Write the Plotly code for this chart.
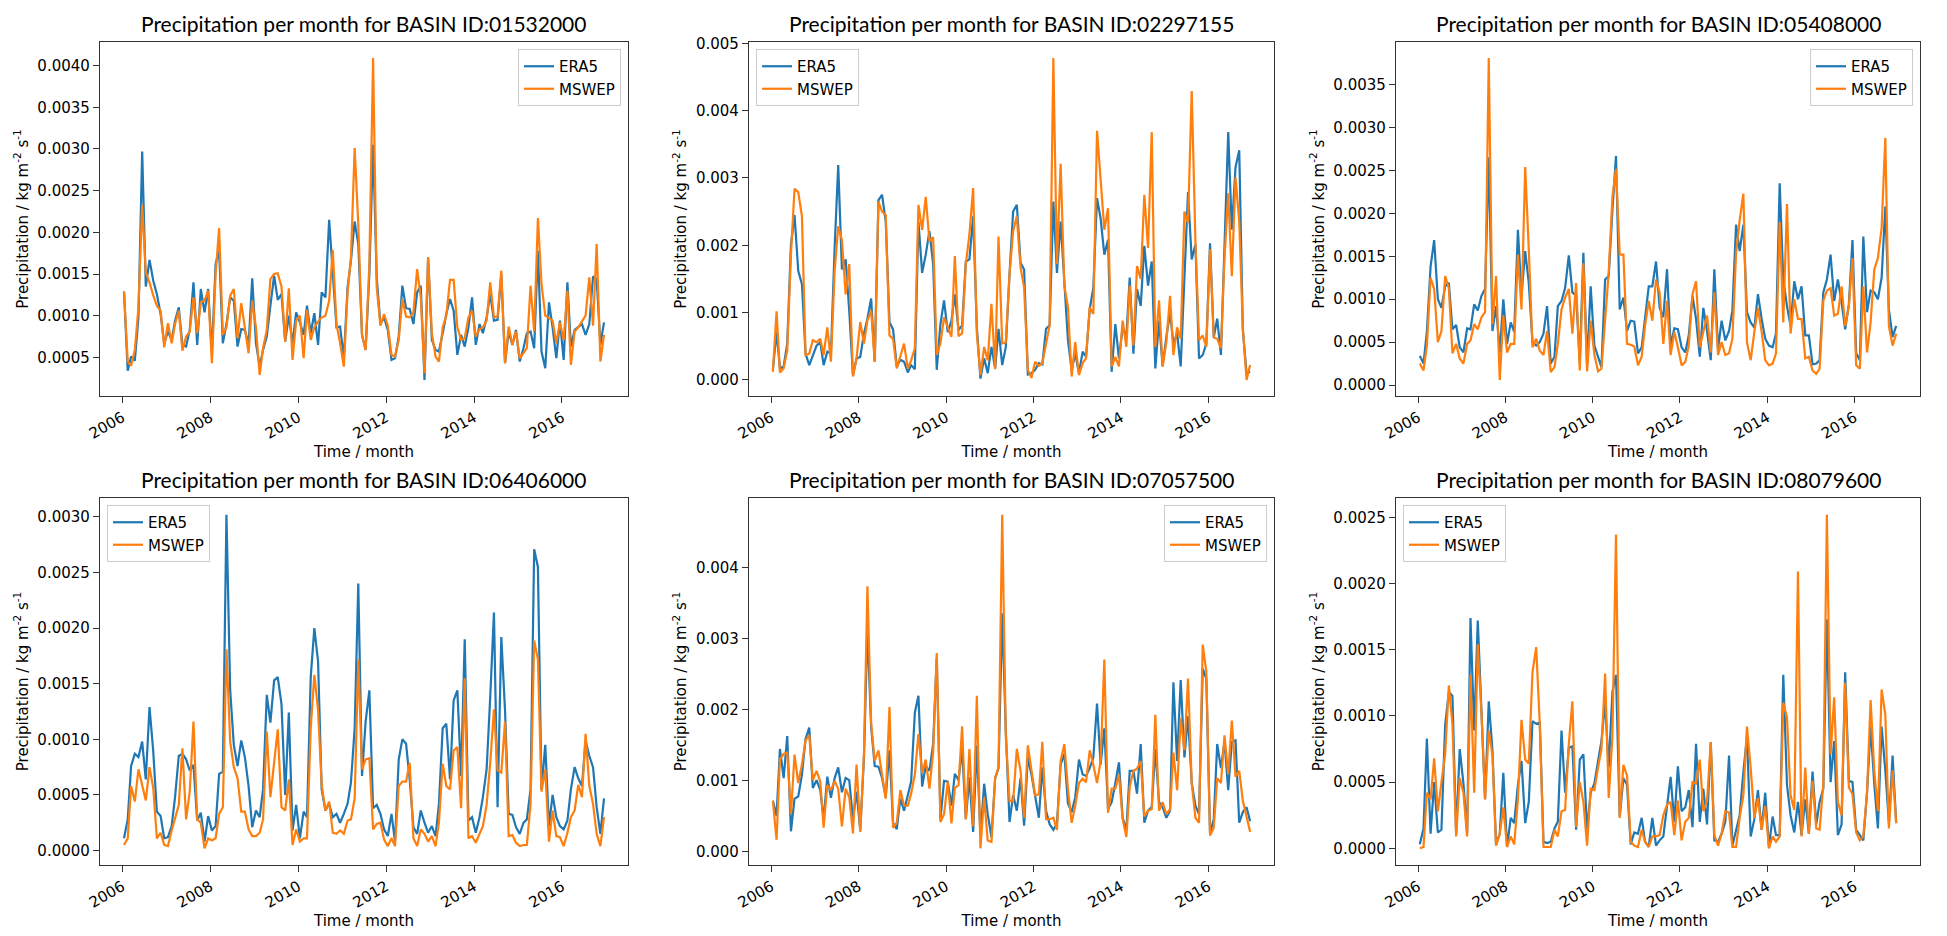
import plotly.graph_objects as go
import pandas as pd

# Monthly dates 2006-01 .. 2016-12
months = [f"{y}-{m:02d}-15" for y in range(2006, 2017) for m in range(1, 13)]

basin_ids = ["01532000", "02297155", "05408000", "06406000", "07057500", "08079600"]

# ---- values (kg m-2 s-1) ----
era5_01532000 = [12.9e-4,3.4e-4,5.1e-4,4.6e-4,9.8e-4,29.7e-4,13.5e-4,16.7e-4,14.2e-4,12.6e-4,
10.2e-4,6.7e-4,8.1e-4,7.1e-4,9.4e-4,11.0e-4,6.5e-4,6.3e-4,8.3e-4,14.0e-4,
6.5e-4,13.2e-4,10.4e-4,13.2e-4,5.5e-4,16.2e-4,17.8e-4,6.7e-4,9.0e-4,12.2e-4,
11.8e-4,6.3e-4,8.4e-4,8.3e-4,6.5e-4,14.5e-4,6.7e-4,3.9e-4,5.9e-4,7.5e-4,
11.2e-4,14.8e-4,11.9e-4,12.6e-4,6.9e-4,10.0e-4,6.7e-4,10.4e-4,9.2e-4,7.7e-4,
11.2e-4,7.9e-4,10.3e-4,6.5e-4,12.8e-4,12.2e-4,21.5e-4,15.0e-4,8.6e-4,8.7e-4,
4.9e-4,13.4e-4,16.6e-4,21.3e-4,18.6e-4,7.7e-4,5.9e-4,15.0e-4,30.5e-4,14.6e-4,
9.0e-4,9.8e-4,8.3e-4,4.7e-4,4.9e-4,7.5e-4,13.6e-4,10.9e-4,10.8e-4,9.0e-4,
12.8e-4,13.6e-4,2.3e-4,17.0e-4,7.1e-4,5.9e-4,5.7e-4,7.9e-4,10.2e-4,12.0e-4,
10.6e-4,5.3e-4,7.7e-4,6.3e-4,8.6e-4,12.2e-4,6.5e-4,9.0e-4,7.9e-4,9.8e-4,
12.6e-4,9.4e-4,9.5e-4,15.0e-4,4.3e-4,8.1e-4,6.5e-4,8.3e-4,4.5e-4,6.1e-4,
7.9e-4,8.1e-4,6.1e-4,17.8e-4,5.7e-4,3.7e-4,11.6e-4,8.6e-4,4.9e-4,9.4e-4,
4.7e-4,14.0e-4,6.3e-4,8.3e-4,8.7e-4,9.0e-4,7.7e-4,9.0e-4,14.7e-4,14.4e-4,
6.5e-4,9.2e-4]
mswep_01532000 = [12.9e-4,4.5e-4,4.0e-4,5.9e-4,11.0e-4,23.3e-4,15.2e-4,14.0e-4,12.4e-4,11.2e-4,
10.6e-4,6.2e-4,9.1e-4,6.7e-4,9.0e-4,10.6e-4,5.8e-4,7.5e-4,8.1e-4,12.2e-4,
7.9e-4,11.6e-4,11.8e-4,13.0e-4,4.3e-4,15.0e-4,20.5e-4,7.7e-4,8.6e-4,12.4e-4,
13.2e-4,7.3e-4,11.5e-4,8.6e-4,5.5e-4,11.8e-4,8.6e-4,2.9e-4,6.1e-4,8.3e-4,
14.4e-4,15.0e-4,15.1e-4,13.5e-4,6.9e-4,13.3e-4,4.7e-4,9.4e-4,10.0e-4,4.9e-4,
10.7e-4,7.1e-4,8.6e-4,9.3e-4,9.8e-4,10.0e-4,11.8e-4,17.9e-4,9.0e-4,6.7e-4,
3.9e-4,12.8e-4,17.0e-4,30.1e-4,21.0e-4,7.7e-4,5.9e-4,16.2e-4,40.9e-4,13.4e-4,
8.8e-4,10.2e-4,8.8e-4,5.3e-4,5.1e-4,7.1e-4,12.0e-4,9.9e-4,9.8e-4,10.4e-4,
15.6e-4,12.2e-4,3.1e-4,17.0e-4,7.9e-4,5.1e-4,4.5e-4,8.6e-4,10.0e-4,14.3e-4,
14.3e-4,8.6e-4,7.1e-4,7.3e-4,9.8e-4,10.6e-4,7.5e-4,8.4e-4,8.6e-4,9.4e-4,
14.0e-4,9.8e-4,9.9e-4,15.4e-4,4.3e-4,8.7e-4,6.5e-4,8.1e-4,4.9e-4,5.5e-4,
6.1e-4,13.6e-4,8.1e-4,21.7e-4,13.8e-4,10.0e-4,9.7e-4,9.4e-4,6.7e-4,9.2e-4,
7.1e-4,13.0e-4,4.1e-4,8.1e-4,8.6e-4,9.4e-4,10.0e-4,14.6e-4,8.8e-4,18.6e-4,
4.5e-4,7.7e-4]

era5_02297155 = [1.5e-4,7.1e-4,1.7e-4,2.0e-4,5.4e-4,20.1e-4,24.5e-4,16.2e-4,14.2e-4,3.9e-4,
2.2e-4,3.7e-4,5.1e-4,5.6e-4,2.2e-4,4.2e-4,3.9e-4,19.6e-4,31.9e-4,16.4e-4,
17.9e-4,10.3e-4,0.7e-4,3.2e-4,3.4e-4,6.9e-4,9.1e-4,12.1e-4,2.7e-4,26.7e-4,
27.5e-4,23.5e-4,8.6e-4,7.5e-4,2.0e-4,3.0e-4,2.7e-4,1.1e-4,2.2e-4,1.6e-4,
23.5e-4,15.9e-4,18.6e-4,22.1e-4,17.2e-4,1.5e-4,8.3e-4,11.8e-4,7.1e-4,8.8e-4,
12.7e-4,7.4e-4,8.1e-4,17.6e-4,17.9e-4,24.3e-4,7.8e-4,0.2e-4,3.2e-4,1.0e-4,
4.9e-4,1.7e-4,7.6e-4,2.2e-4,4.9e-4,15.7e-4,25.0e-4,26.0e-4,17.4e-4,16.4e-4,
0.8e-4,1.0e-4,1.5e-4,2.5e-4,2.3e-4,7.6e-4,8.1e-4,26.5e-4,15.9e-4,23.5e-4,
13.7e-4,5.9e-4,1.5e-4,3.9e-4,1.0e-4,4.2e-4,3.4e-4,10.5e-4,13.7e-4,27.0e-4,
24.0e-4,18.6e-4,20.8e-4,1.2e-4,8.3e-4,3.2e-4,7.8e-4,6.4e-4,15.2e-4,3.9e-4,
13.5e-4,11.0e-4,19.9e-4,14.0e-4,17.6e-4,1.7e-4,8.8e-4,2.0e-4,6.4e-4,10.0e-4,
5.4e-4,6.9e-4,2.0e-4,15.7e-4,27.9e-4,17.9e-4,20.1e-4,3.2e-4,3.7e-4,5.4e-4,
20.3e-4,6.3e-4,9.1e-4,3.7e-4,19.1e-4,36.8e-4,22.3e-4,31.6e-4,34.1e-4,7.4e-4,
1.0e-4,1.2e-4]
mswep_02297155 = [1.2e-4,10.2e-4,1.1e-4,1.7e-4,4.4e-4,18.6e-4,28.4e-4,27.9e-4,24.3e-4,3.7e-4,
3.9e-4,5.9e-4,5.6e-4,6.1e-4,3.7e-4,7.8e-4,2.7e-4,16.2e-4,22.8e-4,20.8e-4,
12.7e-4,17.2e-4,0.5e-4,3.2e-4,8.6e-4,5.4e-4,8.8e-4,10.3e-4,2.7e-4,26.5e-4,
25.0e-4,24.5e-4,6.6e-4,6.1e-4,1.7e-4,3.7e-4,5.4e-4,1.7e-4,2.9e-4,4.7e-4,
26.0e-4,22.3e-4,27.2e-4,20.6e-4,21.2e-4,3.7e-4,5.4e-4,9.3e-4,7.8e-4,6.4e-4,
18.4e-4,6.5e-4,6.9e-4,17.2e-4,21.6e-4,28.5e-4,6.9e-4,0.7e-4,4.9e-4,2.9e-4,
11.3e-4,1.6e-4,21.3e-4,5.4e-4,5.6e-4,15.7e-4,22.1e-4,24.3e-4,16.7e-4,13.7e-4,
1.5e-4,0.3e-4,2.7e-4,2.1e-4,2.5e-4,5.1e-4,8.1e-4,47.8e-4,17.2e-4,32.1e-4,
14.0e-4,10.8e-4,0.5e-4,5.6e-4,0.7e-4,2.5e-4,3.2e-4,10.8e-4,9.8e-4,37.0e-4,
29.4e-4,22.3e-4,25.5e-4,2.0e-4,3.4e-4,2.0e-4,8.8e-4,4.9e-4,14.0e-4,5.1e-4,
16.9e-4,15.0e-4,27.5e-4,19.6e-4,36.8e-4,4.9e-4,11.8e-4,2.0e-4,5.6e-4,12.5e-4,
3.7e-4,7.8e-4,6.1e-4,25.0e-4,23.3e-4,42.9e-4,20.6e-4,5.9e-4,6.6e-4,4.9e-4,
19.4e-4,6.3e-4,6.1e-4,4.7e-4,18.1e-4,27.7e-4,15.4e-4,30.1e-4,23.5e-4,7.8e-4,
0.0e-4,2.2e-4]

era5_05408000 = [3.4e-4,2.5e-4,6.2e-4,13.8e-4,16.9e-4,10.0e-4,9.0e-4,11.5e-4,11.9e-4,6.5e-4,
7.0e-4,4.4e-4,3.8e-4,6.6e-4,6.5e-4,9.4e-4,8.7e-4,10.4e-4,11.2e-4,26.5e-4,
6.3e-4,9.2e-4,3.8e-4,10.0e-4,4.8e-4,7.3e-4,6.2e-4,18.1e-4,10.4e-4,15.6e-4,
11.9e-4,5.0e-4,4.6e-4,5.0e-4,6.0e-4,9.2e-4,2.5e-4,3.3e-4,9.2e-4,9.8e-4,
11.3e-4,15.1e-4,10.8e-4,10.4e-4,2.7e-4,15.4e-4,2.3e-4,11.5e-4,4.6e-4,3.3e-4,
2.1e-4,12.3e-4,12.7e-4,20.4e-4,26.7e-4,8.8e-4,10.2e-4,6.3e-4,7.5e-4,7.4e-4,
3.7e-4,4.4e-4,8.1e-4,11.5e-4,11.5e-4,14.4e-4,9.0e-4,7.9e-4,13.5e-4,4.6e-4,
6.6e-4,6.5e-4,4.4e-4,3.8e-4,5.8e-4,10.4e-4,7.7e-4,3.3e-4,9.0e-4,6.3e-4,
2.9e-4,13.5e-4,4.2e-4,7.5e-4,5.2e-4,6.3e-4,8.7e-4,18.7e-4,15.6e-4,18.7e-4,
8.5e-4,7.3e-4,6.7e-4,10.6e-4,7.7e-4,5.4e-4,4.6e-4,4.4e-4,6.0e-4,23.5e-4,
12.3e-4,9.2e-4,6.9e-4,12.1e-4,10.0e-4,11.5e-4,5.8e-4,5.8e-4,2.4e-4,2.5e-4,
2.9e-4,10.8e-4,12.3e-4,15.2e-4,9.8e-4,12.3e-4,9.6e-4,6.5e-4,9.4e-4,16.9e-4,
3.7e-4,2.9e-4,17.3e-4,8.5e-4,11.0e-4,10.8e-4,10.0e-4,12.5e-4,20.8e-4,8.8e-4,
5.6e-4,6.9e-4]
mswep_05408000 = [2.5e-4,1.7e-4,4.6e-4,12.5e-4,11.2e-4,5.0e-4,6.3e-4,12.7e-4,11.3e-4,3.7e-4,
4.8e-4,3.1e-4,2.5e-4,4.8e-4,5.2e-4,7.1e-4,6.5e-4,7.9e-4,8.5e-4,38.1e-4,
7.1e-4,12.7e-4,0.6e-4,8.1e-4,3.8e-4,4.8e-4,4.8e-4,15.2e-4,8.8e-4,25.4e-4,
15.8e-4,4.4e-4,5.4e-4,4.0e-4,3.5e-4,6.3e-4,1.5e-4,2.1e-4,4.8e-4,8.8e-4,
10.2e-4,11.2e-4,6.0e-4,11.9e-4,1.7e-4,14.2e-4,1.6e-4,7.5e-4,3.5e-4,1.6e-4,
1.9e-4,8.1e-4,13.1e-4,21.9e-4,25.2e-4,15.2e-4,15.2e-4,4.8e-4,4.7e-4,4.5e-4,
2.3e-4,3.3e-4,6.9e-4,9.8e-4,7.5e-4,12.3e-4,10.8e-4,4.8e-4,9.8e-4,3.5e-4,
6.2e-4,4.4e-4,2.3e-4,2.7e-4,4.6e-4,10.6e-4,12.1e-4,4.4e-4,6.3e-4,8.1e-4,
3.8e-4,10.8e-4,3.5e-4,5.0e-4,3.5e-4,3.7e-4,5.4e-4,15.4e-4,19.2e-4,22.3e-4,
5.0e-4,2.9e-4,6.2e-4,9.0e-4,6.2e-4,2.9e-4,2.3e-4,2.5e-4,3.7e-4,19.0e-4,
7.3e-4,21.1e-4,6.0e-4,10.0e-4,7.7e-4,7.7e-4,3.1e-4,3.3e-4,1.7e-4,1.3e-4,
1.9e-4,9.8e-4,11.0e-4,11.3e-4,8.1e-4,8.3e-4,11.5e-4,6.9e-4,9.2e-4,14.8e-4,
2.3e-4,1.9e-4,11.5e-4,3.8e-4,7.3e-4,13.5e-4,14.8e-4,18.3e-4,28.8e-4,6.9e-4,
4.6e-4,6.0e-4]

era5_06406000 = [1.1e-4,2.8e-4,7.6e-4,8.7e-4,8.4e-4,9.8e-4,6.4e-4,12.9e-4,8.9e-4,3.5e-4,
3.1e-4,1.1e-4,1.2e-4,2.2e-4,4.8e-4,8.5e-4,8.7e-4,8.2e-4,7.2e-4,7.7e-4,
2.7e-4,3.4e-4,0.8e-4,3.1e-4,1.8e-4,2.2e-4,6.9e-4,7.1e-4,30.2e-4,14.4e-4,
9.5e-4,7.6e-4,9.9e-4,8.4e-4,5.8e-4,2.1e-4,3.6e-4,3.0e-4,5.5e-4,14.0e-4,
11.5e-4,15.3e-4,15.6e-4,13.2e-4,5.0e-4,12.4e-4,1.8e-4,4.1e-4,1.1e-4,3.5e-4,
3.0e-4,15.6e-4,20.0e-4,17.0e-4,5.5e-4,3.6e-4,4.2e-4,3.0e-4,3.3e-4,2.5e-4,
3.3e-4,4.2e-4,6.1e-4,11.0e-4,24.0e-4,6.7e-4,11.6e-4,14.4e-4,3.8e-4,4.1e-4,
3.3e-4,1.9e-4,1.3e-4,3.3e-4,0.8e-4,8.2e-4,10.0e-4,9.6e-4,6.4e-4,2.1e-4,
1.5e-4,3.6e-4,2.5e-4,1.6e-4,2.2e-4,1.3e-4,4.2e-4,11.0e-4,11.4e-4,6.4e-4,
13.5e-4,14.4e-4,6.7e-4,19.0e-4,2.7e-4,3.0e-4,1.6e-4,3.0e-4,4.8e-4,7.3e-4,
13.8e-4,21.4e-4,3.9e-4,19.2e-4,12.6e-4,3.3e-4,3.2e-4,2.1e-4,1.5e-4,2.5e-4,
2.8e-4,5.5e-4,27.1e-4,25.5e-4,5.5e-4,9.5e-4,2.2e-4,5.0e-4,3.0e-4,2.2e-4,
1.9e-4,2.7e-4,5.5e-4,7.5e-4,6.5e-4,5.8e-4,9.9e-4,8.5e-4,7.5e-4,3.9e-4,
1.5e-4,4.7e-4]
mswep_06406000 = [0.5e-4,1.1e-4,5.8e-4,4.4e-4,7.3e-4,5.8e-4,4.5e-4,7.5e-4,5.6e-4,1.1e-4,
1.6e-4,0.5e-4,0.4e-4,1.8e-4,2.8e-4,4.1e-4,9.2e-4,2.8e-4,5.3e-4,11.6e-4,
2.8e-4,2.5e-4,0.2e-4,1.1e-4,0.9e-4,1.1e-4,3.3e-4,3.9e-4,18.1e-4,9.8e-4,
7.5e-4,6.5e-4,3.5e-4,3.5e-4,1.9e-4,1.3e-4,1.3e-4,1.6e-4,2.8e-4,10.7e-4,
4.8e-4,8.2e-4,10.9e-4,3.9e-4,3.6e-4,6.4e-4,0.5e-4,1.9e-4,0.8e-4,1.1e-4,
1.1e-4,11.0e-4,15.8e-4,12.6e-4,5.9e-4,3.6e-4,4.4e-4,1.6e-4,1.5e-4,1.8e-4,
1.5e-4,2.7e-4,2.8e-4,4.7e-4,17.2e-4,7.3e-4,8.2e-4,8.3e-4,1.9e-4,2.4e-4,
2.5e-4,1.0e-4,0.4e-4,1.1e-4,0.4e-4,5.8e-4,6.2e-4,6.2e-4,7.9e-4,1.1e-4,
0.4e-4,1.9e-4,1.5e-4,0.8e-4,1.3e-4,0.4e-4,2.5e-4,7.8e-4,5.8e-4,5.5e-4,
9.0e-4,9.3e-4,3.8e-4,15.5e-4,1.1e-4,1.3e-4,0.7e-4,1.5e-4,2.2e-4,4.1e-4,
7.9e-4,12.7e-4,7.2e-4,7.0e-4,11.6e-4,1.3e-4,1.4e-4,0.7e-4,0.4e-4,0.5e-4,
0.5e-4,4.2e-4,18.9e-4,17.2e-4,5.3e-4,7.3e-4,0.8e-4,3.6e-4,1.3e-4,1.2e-4,
0.4e-4,1.6e-4,3.0e-4,3.6e-4,5.9e-4,4.8e-4,10.5e-4,5.8e-4,4.2e-4,1.5e-4,
0.4e-4,3.0e-4]

era5_07057500 = [7.2e-4,5.1e-4,14.5e-4,10.4e-4,16.3e-4,2.9e-4,7.5e-4,7.8e-4,10.9e-4,15.9e-4,
17.5e-4,9.0e-4,10.1e-4,8.7e-4,4.6e-4,10.6e-4,7.6e-4,10.4e-4,11.9e-4,8.4e-4,
10.4e-4,10.1e-4,4.6e-4,8.5e-4,3.1e-4,13.3e-4,31.6e-4,17.6e-4,12.1e-4,12.0e-4,
10.4e-4,7.7e-4,14.3e-4,4.1e-4,3.2e-4,7.5e-4,5.8e-4,8.0e-4,9.9e-4,19.6e-4,
22.0e-4,9.2e-4,12.1e-4,11.4e-4,15.2e-4,27.3e-4,4.6e-4,10.0e-4,9.9e-4,6.5e-4,
11.0e-4,10.1e-4,14.5e-4,4.6e-4,10.5e-4,2.8e-4,15.0e-4,2.2e-4,9.6e-4,5.3e-4,
2.1e-4,10.4e-4,11.8e-4,33.6e-4,17.1e-4,4.2e-4,8.0e-4,5.8e-4,10.4e-4,3.7e-4,
13.3e-4,10.9e-4,7.7e-4,4.8e-4,11.9e-4,5.8e-4,3.9e-4,3.1e-4,4.0e-4,12.3e-4,
13.8e-4,6.8e-4,5.6e-4,7.7e-4,13.0e-4,10.9e-4,10.7e-4,11.8e-4,13.3e-4,20.9e-4,
12.3e-4,17.4e-4,6.0e-4,7.0e-4,9.7e-4,12.6e-4,4.8e-4,3.1e-4,11.4e-4,11.4e-4,
8.2e-4,15.2e-4,4.1e-4,5.8e-4,6.3e-4,14.5e-4,7.0e-4,6.3e-4,4.8e-4,5.8e-4,
23.9e-4,12.8e-4,24.2e-4,13.3e-4,19.1e-4,9.7e-4,6.5e-4,5.3e-4,25.8e-4,24.4e-4,
2.7e-4,4.6e-4,15.2e-4,11.8e-4,15.5e-4,8.7e-4,15.5e-4,15.7e-4,4.1e-4,5.6e-4,
6.3e-4,4.3e-4]
mswep_07057500 = [7.2e-4,1.7e-4,13.0e-4,13.8e-4,14.0e-4,5.3e-4,13.7e-4,9.7e-4,12.3e-4,15.7e-4,
16.4e-4,10.1e-4,11.4e-4,9.9e-4,3.4e-4,9.4e-4,8.7e-4,10.0e-4,8.9e-4,3.6e-4,
8.9e-4,7.7e-4,2.6e-4,12.3e-4,2.8e-4,13.8e-4,37.4e-4,18.1e-4,12.8e-4,14.3e-4,
10.9e-4,7.5e-4,20.4e-4,3.4e-4,4.1e-4,8.7e-4,6.5e-4,6.5e-4,8.2e-4,10.9e-4,
16.6e-4,11.1e-4,13.0e-4,8.9e-4,14.0e-4,28.0e-4,4.2e-4,5.3e-4,9.9e-4,4.0e-4,
9.0e-4,9.4e-4,17.7e-4,4.6e-4,14.5e-4,3.6e-4,22.0e-4,0.5e-4,7.7e-4,1.6e-4,
1.4e-4,10.4e-4,11.9e-4,47.5e-4,16.2e-4,7.2e-4,7.1e-4,14.5e-4,11.4e-4,4.8e-4,
15.0e-4,11.8e-4,8.0e-4,8.1e-4,15.5e-4,4.6e-4,4.6e-4,4.8e-4,3.1e-4,12.8e-4,
15.2e-4,8.9e-4,4.1e-4,6.5e-4,9.7e-4,10.3e-4,9.8e-4,14.3e-4,12.3e-4,9.7e-4,
12.8e-4,27.1e-4,5.5e-4,8.9e-4,8.9e-4,10.9e-4,4.6e-4,2.1e-4,9.2e-4,11.4e-4,
11.7e-4,12.8e-4,5.0e-4,5.8e-4,6.0e-4,19.3e-4,5.8e-4,7.0e-4,5.3e-4,6.0e-4,
14.0e-4,8.7e-4,18.8e-4,14.3e-4,24.4e-4,9.7e-4,4.8e-4,4.1e-4,29.2e-4,25.4e-4,
2.3e-4,3.4e-4,10.4e-4,9.7e-4,16.4e-4,10.9e-4,18.5e-4,10.6e-4,11.4e-4,7.2e-4,
4.8e-4,2.8e-4]

era5_08079600 = [0.3e-4,1.5e-4,8.3e-4,1.1e-4,5.0e-4,1.2e-4,1.4e-4,9.3e-4,11.8e-4,11.5e-4,
1.1e-4,7.5e-4,4.9e-4,1.1e-4,17.4e-4,8.9e-4,17.2e-4,9.9e-4,3.7e-4,11.1e-4,
7.4e-4,0.3e-4,1.1e-4,5.7e-4,0.1e-4,2.3e-4,1.9e-4,4.8e-4,6.6e-4,1.9e-4,
3.5e-4,9.6e-4,9.4e-4,9.5e-4,0.5e-4,0.4e-4,0.5e-4,1.5e-4,2.0e-4,8.9e-4,
4.2e-4,7.6e-4,7.7e-4,1.4e-4,6.7e-4,7.1e-4,1.4e-4,4.2e-4,4.9e-4,6.6e-4,
8.1e-4,11.0e-4,6.1e-4,11.8e-4,13.1e-4,2.4e-4,5.3e-4,4.8e-4,0.3e-4,1.2e-4,
1.1e-4,2.3e-4,0.5e-4,0.1e-4,2.3e-4,0.2e-4,0.6e-4,0.9e-4,3.2e-4,5.4e-4,
2.0e-4,6.2e-4,2.8e-4,3.1e-4,4.4e-4,1.6e-4,7.9e-4,2.0e-4,4.5e-4,1.8e-4,
8.0e-4,0.6e-4,0.5e-4,1.1e-4,2.0e-4,7.0e-4,0.2e-4,1.4e-4,2.5e-4,5.8e-4,
8.4e-4,0.9e-4,2.2e-4,4.4e-4,1.4e-4,4.2e-4,0.1e-4,2.4e-4,1.0e-4,1.0e-4,
13.1e-4,4.8e-4,2.5e-4,1.2e-4,3.5e-4,1.0e-4,3.7e-4,1.1e-4,5.8e-4,1.8e-4,
3.5e-4,4.5e-4,17.3e-4,5.0e-4,8.1e-4,1.0e-4,1.8e-4,13.3e-4,5.1e-4,5.0e-4,
1.4e-4,1.0e-4,0.6e-4,4.2e-4,9.2e-4,4.8e-4,1.5e-4,9.2e-4,5.9e-4,1.9e-4,
7.0e-4,1.9e-4]
mswep_08079600 = [0.0e-4,0.1e-4,4.2e-4,3.7e-4,6.8e-4,2.8e-4,5.0e-4,7.1e-4,12.3e-4,9.4e-4,
0.9e-4,5.3e-4,4.2e-4,0.9e-4,13.1e-4,4.2e-4,15.4e-4,10.2e-4,3.7e-4,8.9e-4,
7.0e-4,0.2e-4,1.1e-4,3.1e-4,0.1e-4,0.9e-4,0.3e-4,3.7e-4,9.7e-4,6.7e-4,
6.4e-4,13.3e-4,15.2e-4,9.4e-4,0.1e-4,0.1e-4,0.1e-4,1.4e-4,0.9e-4,2.8e-4,
2.9e-4,7.9e-4,11.1e-4,1.6e-4,5.0e-4,3.5e-4,0.2e-4,4.5e-4,4.4e-4,6.1e-4,
7.5e-4,13.2e-4,3.8e-4,8.4e-4,23.7e-4,2.3e-4,6.3e-4,5.5e-4,0.5e-4,0.2e-4,
0.1e-4,1.4e-4,0.5e-4,0.1e-4,0.9e-4,0.9e-4,1.0e-4,2.5e-4,3.3e-4,3.5e-4,
1.0e-4,3.6e-4,0.6e-4,2.0e-4,2.3e-4,5.0e-4,4.9e-4,6.7e-4,2.8e-4,3.6e-4,
8.0e-4,1.0e-4,0.2e-4,1.1e-4,2.8e-4,2.7e-4,0.1e-4,0.1e-4,2.3e-4,4.0e-4,
9.2e-4,6.1e-4,2.3e-4,3.8e-4,1.4e-4,3.2e-4,0.0e-4,0.9e-4,0.5e-4,0.9e-4,
11.0e-4,9.9e-4,4.0e-4,2.9e-4,20.9e-4,0.9e-4,6.1e-4,1.1e-4,5.1e-4,1.5e-4,
1.4e-4,4.8e-4,25.2e-4,7.1e-4,11.4e-4,3.5e-4,2.5e-4,12.5e-4,4.6e-4,4.1e-4,
1.2e-4,0.6e-4,0.9e-4,4.2e-4,11.2e-4,5.8e-4,2.8e-4,12.0e-4,10.1e-4,1.5e-4,
5.9e-4,1.9e-4]

era5_series = [era5_01532000, era5_02297155, era5_05408000,
               era5_06406000, era5_07057500, era5_08079600]
mswep_series = [mswep_01532000, mswep_02297155, mswep_05408000,
                mswep_06406000, mswep_07057500, mswep_08079600]

# ---- layout / style ----
W, H = 1947, 936
BLUE, ORANGE = "#1f77b4", "#ff7f0e"
TICK_FONT = dict(family="DejaVu Sans", size=15, color="#000000")
TITLE_FONT = dict(family="Lato", size=21, color="#000000")

x_domains = [[92/W, 620/W], [741/W, 1266/W], [1388/W, 1912/W]]
y_domains = [[1 - 388/H, 1 - 34/H], [1 - 857/H, 1 - 490/H]]
ytick_step = [0.0005, 0.001, 0.0005, 0.0005, 0.001, 0.0005]
ytick_fmt = [".4f", ".3f", ".4f", ".4f", ".3f", ".4f"]
legend_side = ["right", "left", "right", "left", "right", "left"]

dates = pd.to_datetime(months)
span = dates[-1] - dates[0]
x_range = [dates[0] - 0.05 * span, dates[-1] + 0.05 * span]

fig = go.Figure()
annotations = []
layout_upd = {}

for k in range(6):
    r, c = divmod(k, 3)
    ax = "" if k == 0 else str(k + 1)
    leg = "legend" if k == 0 else f"legend{k + 1}"
    fig.add_trace(go.Scatter(x=dates, y=era5_series[k], mode="lines", name="ERA5",
                             line=dict(color=BLUE, width=2.2),
                             xaxis="x" + ax, yaxis="y" + ax, legend=leg))
    fig.add_trace(go.Scatter(x=dates, y=mswep_series[k], mode="lines", name="MSWEP",
                             line=dict(color=ORANGE, width=2.2),
                             xaxis="x" + ax, yaxis="y" + ax, legend=leg))
    lo = min(min(era5_series[k]), min(mswep_series[k]))
    hi = max(max(era5_series[k]), max(mswep_series[k]))
    pad = 0.05 * (hi - lo)
    xd, yd = x_domains[c], y_domains[r]
    common = dict(showline=True, linecolor="#333333", linewidth=1.3, mirror=True,
                  ticks="outside", ticklen=6, tickwidth=1.2, tickcolor="#333333",
                  showgrid=False, zeroline=False, tickfont=TICK_FONT, automargin=False)
    layout_upd["xaxis" + ax] = dict(common, domain=xd, anchor="y" + ax, type="date",
                                    range=x_range, tick0="2006-01-01", dtick="M24",
                                    tickformat="%Y", tickangle=-30,
                                    title=dict(text="Time / month", font=TICK_FONT, standoff=4))
    layout_upd["yaxis" + ax] = dict(common, domain=yd, anchor="x" + ax,
                                    range=[lo - pad, hi + pad], dtick=ytick_step[k],
                                    tick0=0, tickformat=ytick_fmt[k],
                                    title=dict(text="Precipitation / kg m<sup>-2</sup> s<sup>-1</sup>",
                                               font=TICK_FONT, standoff=5))
    if legend_side[k] == "right":
        lx, xa = xd[1] - 7/W, "right"
    else:
        lx, xa = xd[0] + 7/W, "left"
    layout_upd[leg] = dict(x=lx, xanchor=xa, y=yd[1] - 7/H, yanchor="top",
                           bgcolor="rgba(255,255,255,0.85)", bordercolor="#cccccc",
                           borderwidth=1, font=TICK_FONT, tracegroupgap=0)
    annotations.append(dict(text=f"Precipitation per month for BASIN ID:{basin_ids[k]}",
                            x=(xd[0] + xd[1]) / 2, y=yd[1], xref="paper", yref="paper",
                            xanchor="center", yanchor="bottom", yshift=4,
                            showarrow=False, font=TITLE_FONT))

fig.update_layout(width=W, height=H, margin=dict(l=0, r=0, t=0, b=0),
                  paper_bgcolor="white", plot_bgcolor="white",
                  annotations=annotations, showlegend=True, **layout_upd)

fig.write_html("out.html")
